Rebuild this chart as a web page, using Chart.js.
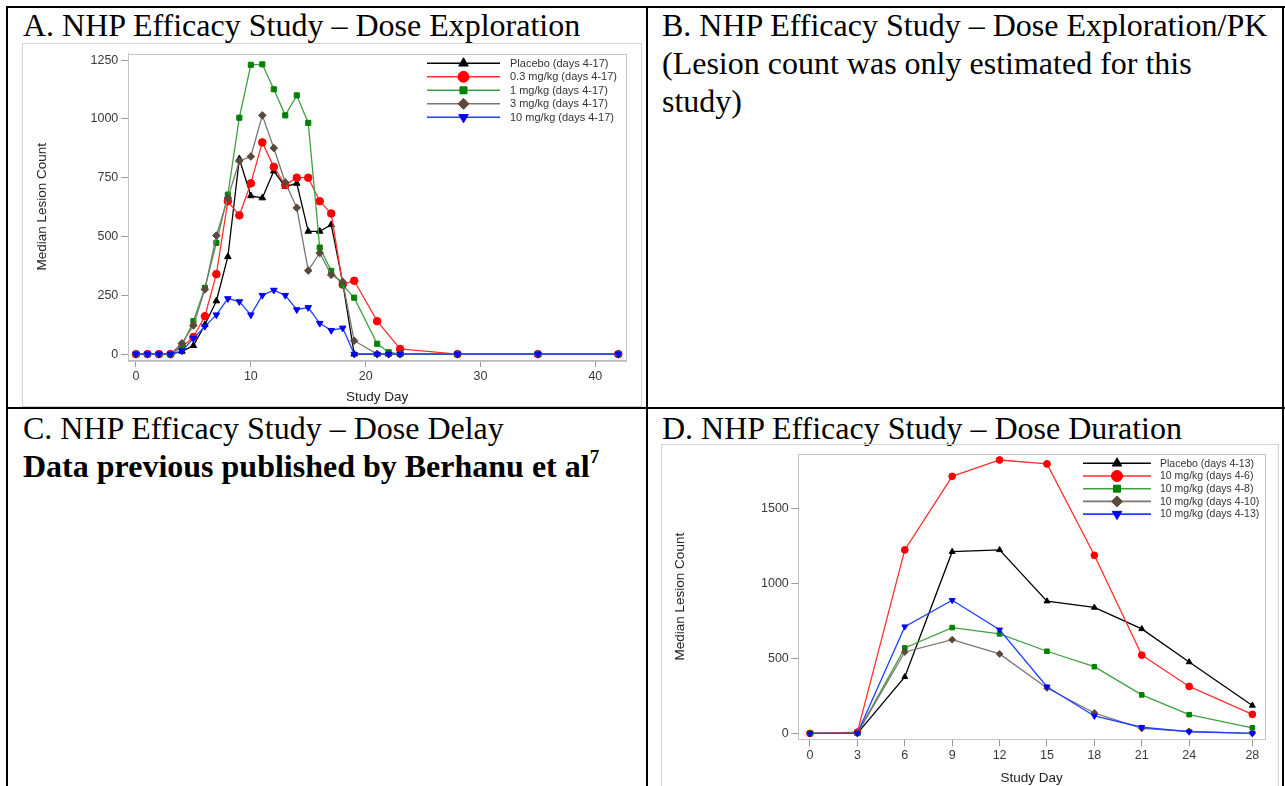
<!DOCTYPE html>
<html><head><meta charset="utf-8">
<script src="https://cdn.jsdelivr.net/npm/chart.js@4.4.0/dist/chart.umd.min.js"></script>
<style>
html,body{margin:0;padding:0;background:#fff;}
body{width:1285px;height:786px;position:relative;overflow:hidden;font-family:"Liberation Serif","Times New Roman",serif;}
.b{position:absolute;background:#000;}
.t{position:absolute;font-size:32px;line-height:38px;color:#000;white-space:nowrap;}
.frame{position:absolute;border:1px solid #d4d4d4;box-sizing:border-box;}
canvas{position:absolute;}
sup{font-size:19px;line-height:0;vertical-align:14px;}
</style></head>
<body>
<div class="b" style="left:6px;top:6px;width:1279px;height:2px;"></div>
<div class="b" style="left:6px;top:6px;width:2px;height:780px;"></div>
<div class="b" style="left:1282px;top:6px;width:2px;height:780px;"></div>
<div class="b" style="left:646px;top:6px;width:2px;height:780px;"></div>
<div class="b" style="left:6px;top:407px;width:1279px;height:2px;"></div>

<div class="t" style="left:23px;top:6px;">A. NHP Efficacy Study – Dose Exploration</div>
<div class="t" style="left:662px;top:6px;">B. NHP Efficacy Study – Dose Exploration/PK<br>(Lesion count was only estimated for this<br>study)</div>
<div class="t" style="left:23px;top:409px;">C. NHP Efficacy Study – Dose Delay<br><b>Data previous published by Berhanu et al<sup>7</sup></b></div>
<div class="t" style="left:662px;top:409px;">D. NHP Efficacy Study – Dose Duration</div>

<div class="frame" style="left:22px;top:43px;width:620px;height:364px;"></div>
<div class="frame" style="left:661px;top:444px;width:618px;height:344px;"></div>
<canvas id="cA" width="617" height="362" style="left:23px;top:43px;width:617px;height:362px;"></canvas>
<canvas id="cD" width="616" height="342" style="left:662px;top:444px;width:616px;height:342px;"></canvas>

<script>
// ---------- Panel A data ----------
const daysA = [0,1,2,3,4,5,6,7,8,9,10,11,12,13,14,15,16,17,18,19,21,22,23,28,35,42];
const placeboA = [0,0,0,0,12,36,125,226,414,830,673,664,778,712,726,522,522,550,305,0,0,0,0,0,0,0];
const dose03A  = [0,0,0,0,30,73,161,340,650,590,726,900,796,719,750,750,650,598,296,312,140,null,22,0,0,0];
const dose1A   = [0,0,0,0,35,140,282,473,678,1005,1230,1232,1126,1015,1100,983,453,354,293,240,44,8,0,0,0,0];
const dose3A   = [0,0,0,0,46,122,275,504,664,821,840,1015,876,730,622,355,430,337,307,57,0,0,0,0,0,0];
const dose10A  = [0,0,0,0,14,67,118,167,236,223,167,250,272,250,189,198,131,101,111,0,0,0,0,0,0,0];
const labelsA = ["Placebo (days 4-17)","0.3 mg/kg (days 4-17)","1 mg/kg (days 4-17)","3 mg/kg (days 4-17)","10 mg/kg (days 4-17)"];
const xTicksA = [0,10,20,30,40];
const yTicksA = [0,250,500,750,1000,1250];

// ---------- Panel D data ----------
const daysD = [0,3,6,9,12,15,18,21,24,28];
const placeboD = [0,0,377,1212,1224,882,840,697,476,186];
const dose46D  = [0,8,1224,1715,1824,1798,1188,522,313,127];
const dose48D  = [0,0,570,706,664,548,445,257,125,37];
const dose410D = [0,0,543,625,530,303,136,33,14,0];
const dose413D = [0,0,712,888,691,311,116,41,11,0];
const labelsD = ["Placebo (days 4-13)","10 mg/kg (days 4-6)","10 mg/kg (days 4-8)","10 mg/kg (days 4-10)","10 mg/kg (days 4-13)"];
const xTicksD = [0,3,6,9,12,15,18,21,24,28];
const yTicksD = [0,500,1000,1500];

const styles = [
  {line:'#000000', fill:'#000000', pointStyle:'triangle', rotation:0},
  {line:'#ff3030', fill:'#ff0000', pointStyle:'circle', rotation:0},
  {line:'#40a040', fill:'#008000', pointStyle:'rect', rotation:0},
  {line:'#7a7670', fill:'#5a4a3c', pointStyle:'rectRot', rotation:0},
  {line:'#2040ff', fill:'#0000ff', pointStyle:'triangle', rotation:180}
];

function mkSets(days, series, labels, r){
  return series.map((vals,i)=>({
    label: labels[i],
    order: series.length - i,
    data: days.map((d,j)=>({x:d, y:vals[j]})),
    borderColor: styles[i].line,
    backgroundColor: styles[i].fill,
    pointBackgroundColor: styles[i].fill,
    pointBorderColor: styles[i].fill,
    pointStyle: styles[i].pointStyle,
    rotation: styles[i].rotation,
    pointRadius: styles[i].pointStyle==='rect' ? r*0.95 : r,
    borderWidth: 1.3,
    pointBorderWidth: 1,
    tension: 0,
    spanGaps: true
  }));
}

const framePlugin = {
  id:'frame',
  beforeDatasetsDraw(chart){
    const a = chart.chartArea, c = chart.ctx;
    c.save(); c.strokeStyle = '#c4c4c4'; c.lineWidth = 1;
    c.strokeRect(Math.round(a.left)+0.5, Math.round(a.top)+0.5, Math.round(a.right-a.left), Math.round(a.bottom-a.top));
    c.restore();
  }
};

const legendPlugin = {
  id:'lineLegend',
  afterDraw(chart, args, o){
    const c = chart.ctx;
    chart.data.datasets.forEach((ds,i)=>{
      const y = o.y + i*o.dy;
      c.save();
      c.strokeStyle = ds.borderColor; c.lineWidth = 1.6;
      c.beginPath(); c.moveTo(o.x0, y); c.lineTo(o.x1, y); c.stroke();
      c.fillStyle = ds.pointBackgroundColor; c.strokeStyle = ds.pointBorderColor; c.lineWidth = 1;
      Chart.helpers.drawPoint(c, {pointStyle: ds.pointStyle, rotation: ds.rotation, radius: ds.pointStyle==='rect'? o.r*0.9 : o.r, borderWidth:1}, (o.x0+o.x1)/2, y);
      c.fillStyle = '#333'; c.font = o.font; c.textBaseline = 'middle'; c.textAlign = 'left';
      c.fillText(ds.label, o.tx, y+0.5);
      c.restore();
    });
  }
};

const tickFont = {family:'"Liberation Sans", Arial, sans-serif', size:12.5};
const titleFont = {family:'"Liberation Sans", Arial, sans-serif', size:13.5};

function mkOptions(cfg){
  return {
    responsive:false, animation:false, devicePixelRatio:1,
    layout:{padding:cfg.pad},
    plugins:{legend:{display:false}, tooltip:{enabled:false}, lineLegend:cfg.legend},
    scales:{
      x:{type:'linear', min:cfg.xmin, max:cfg.xmax,
        afterBuildTicks:(ax)=>{ax.ticks = cfg.xt.map(v=>({value:v}));},
        afterFit:(s)=>{s.height = cfg.xh;},
        grid:{drawOnChartArea:false, drawTicks:true, tickLength:7, color:'#9a9a9a'},
        border:{color:'#bdbdbd', width:1},
        ticks:{font:tickFont, color:'#3a3a3a', padding:cfg.xpad, maxRotation:0, autoSkip:false, callback:(v)=>String(v)},
        title:{display:true, text:'Study Day', font:titleFont, color:'#222', padding:{top:0,bottom:cfg.xtb}}
      },
      y:{type:'linear', min:cfg.ymin, max:cfg.ymax,
        afterBuildTicks:(ax)=>{ax.ticks = cfg.yt.map(v=>({value:v}));},
        afterFit:(s)=>{s.width = cfg.yw;},
        grid:{drawOnChartArea:false, drawTicks:true, tickLength:7, color:'#9a9a9a'},
        border:{color:'#bdbdbd', width:1},
        ticks:{font:tickFont, color:'#3a3a3a', padding:cfg.ypad, callback:(v)=>String(v)},
        title:{display:true, text:'Median Lesion Count', font:titleFont, color:'#222', padding:{top:cfg.ytt,bottom:0}}
      }
    }
  };
}

new Chart(document.getElementById('cA'), {
  type:'line',
  data:{datasets: mkSets(daysA, [placeboA,dose03A,dose1A,dose3A,dose10A], labelsA, 3.8)},
  options: mkOptions({pad:{left:0,top:5.5,right:14,bottom:0}, xmin:-0.67, xmax:42.67, ymin:-25, ymax:1278,
    xt:xTicksA, yt:yTicksA, xh:45, yw:105.3, xpad:2.5, ypad:3, xtb:0, ytt:11,
    legend:{x0:404, x1:477, tx:487, y:20.3, dy:13.5, r:5.5, font:'11px "Liberation Sans", Arial, sans-serif'}}),
  plugins:[framePlugin, legendPlugin]
});

new Chart(document.getElementById('cD'), {
  type:'line',
  data:{datasets: mkSets(daysD, [placeboD,dose46D,dose48D,dose410D,dose413D], labelsD, 3.4)},
  options: mkOptions({pad:{left:0,top:6,right:13,bottom:0}, xmin:-0.74, xmax:28.8, ymin:-39.5, ymax:1864,
    xt:xTicksD, yt:yTicksD, xh:46.7, yw:136.3, xpad:2, ypad:2.5, xtb:0, ytt:10.5,
    legend:{x0:421, x1:489, tx:498, y:19.3, dy:12.7, r:5.5, font:'10.5px "Liberation Sans", Arial, sans-serif'}}),
  plugins:[framePlugin, legendPlugin]
});
</script>
</body></html>
